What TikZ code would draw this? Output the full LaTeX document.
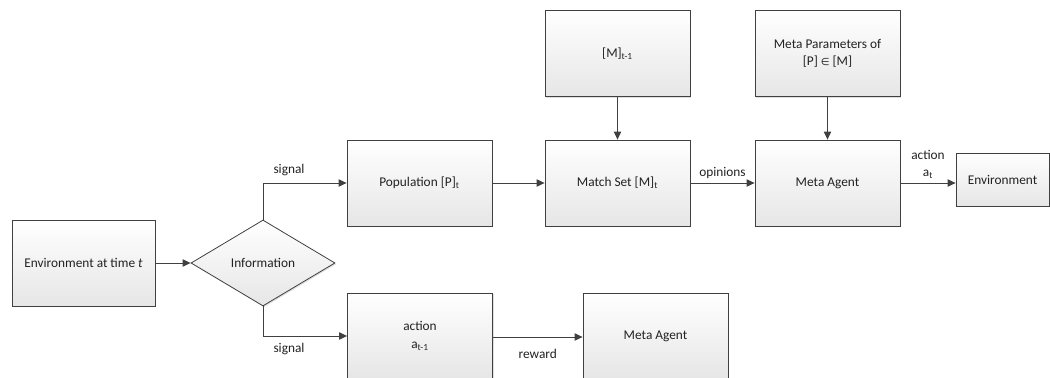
\documentclass[tikz,border=0pt]{standalone}
\usepackage{fontspec}
\setmainfont{Carlito}
\newfontfamily\symfont{DejaVu Sans}
\usetikzlibrary{shapes.geometric,arrows.meta,shadows}
\definecolor{linegray}{HTML}{404040}
\definecolor{textgray}{HTML}{222222}
\definecolor{fillbottom}{HTML}{E6E6E6}
\tikzset{
  block/.style={rectangle, draw=linegray, line width=0.6pt,
    top color=white, bottom color=fillbottom,
    drop shadow={shadow xshift=0.9pt, shadow yshift=-0.9pt, opacity=0.25},
    minimum width=108.75pt, minimum height=64.5pt, inner sep=2pt,
    align=center, text=textgray},
  decision/.style={diamond, draw=linegray, line width=0.6pt,
    top color=white, bottom color=fillbottom,
    drop shadow={shadow xshift=0.9pt, shadow yshift=-0.9pt, opacity=0.25},
    minimum width=108pt, minimum height=64.5pt, aspect=1.67, inner sep=0pt,
    text=textgray},
  flow/.style={draw=linegray, line width=0.75pt, -{Triangle[length=6pt,width=5.5pt]}},
  lbl/.style={text=textgray, inner sep=1pt}
}
\begin{document}
\begin{tikzpicture}[x=0.75pt, y=-0.75pt, font=\fontsize{10}{12}\selectfont]
\useasboundingbox (0,0) rectangle (1050,378);
\clip (0,0) rectangle (1050,378);

% input side
\node[block, minimum width=107.25pt] (env) at (83.5,263) {Environment at time \textit{t}};
\node[decision] (info) at (263,263) {Information};

% upper chain
\node[block] (pop)   at (419.5,183) {Population [P]\textsubscript{t}};
\node[block] (match) at (617.5,183) {Match Set [M]\textsubscript{t}};
\node[block] (prev)  at (617.5,53.5) {[M]\textsubscript{t-1}};
\node[block] (params) at (827.5,53.5) {Meta Parameters of\\[1pt] [P] {\symfont\fontsize{7.5}{9}\selectfont ∈} [M]};
\node[block] (meta)  at (827.5,183) {Meta Agent};
\node[block, minimum width=69.75pt, minimum height=39.75pt] (env2) at (1002.5,179.5) {Environment};

% lower chain
\node[block] (act)   at (420,336) {action\\[1pt] a\textsubscript{t-1}};
\node[block] (meta2) at (655.5,336) {Meta Agent};

% connectors
\draw[flow] (env) -- (info);
\draw[flow] (info.north) |- (pop.west);
\node[lbl] at (289,170) {signal};
\draw[flow] (info.south) |- (act.west);
\node[lbl] at (289,349) {signal};

\draw[flow] (pop) -- (match);
\draw[flow] (prev) -- (match);
\draw[flow] (match) -- (meta) node[lbl, midway, above=2pt] {opinions};
\draw[flow] (params) -- (meta);
\draw[flow] (meta.east) -- (meta.east -| env2.west)
  node[lbl, midway, above=2pt, align=center] {action\\[1pt] a\textsubscript{t}};
\draw[flow] (act.east |- 0,337) -- (meta2.west |- 0,337)
  node[lbl, midway, below=8pt] {reward};
\end{tikzpicture}
\end{document}
